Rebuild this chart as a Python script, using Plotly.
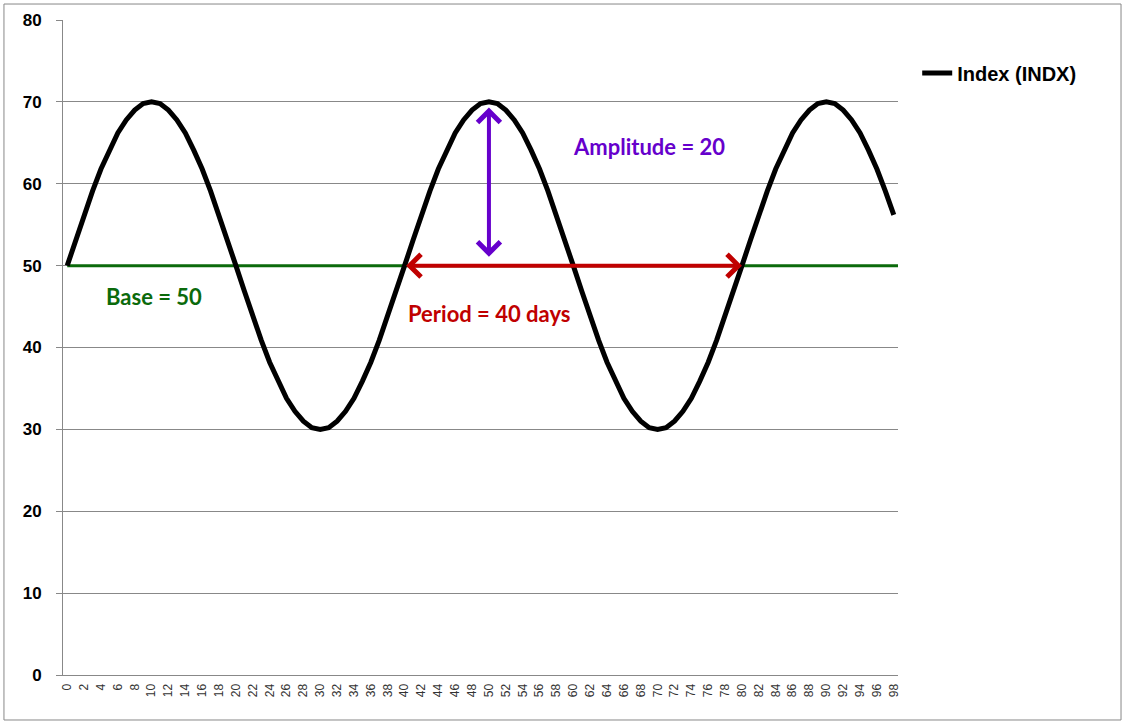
import plotly.graph_objects as go

# ---- data ----
days = list(range(0, 99))
index_values = [
    50.0, 53.1, 56.2, 59.1, 61.8, 64.1, 66.2, 67.8, 69.0, 69.8,
    70.0, 69.8, 69.0, 67.8, 66.2, 64.1, 61.8, 59.1, 56.2, 53.1,
    50.0, 46.9, 43.8, 40.9, 38.2, 35.9, 33.8, 32.2, 31.0, 30.2,
    30.0, 30.2, 31.0, 32.2, 33.8, 35.9, 38.2, 40.9, 43.8, 46.9,
    50.0, 53.1, 56.2, 59.1, 61.8, 64.1, 66.2, 67.8, 69.0, 69.8,
    70.0, 69.8, 69.0, 67.8, 66.2, 64.1, 61.8, 59.1, 56.2, 53.1,
    50.0, 46.9, 43.8, 40.9, 38.2, 35.9, 33.8, 32.2, 31.0, 30.2,
    30.0, 30.2, 31.0, 32.2, 33.8, 35.9, 38.2, 40.9, 43.8, 46.9,
    50.0, 53.1, 56.2, 59.1, 61.8, 64.1, 66.2, 67.8, 69.0, 69.8,
    70.0, 69.8, 69.0, 67.8, 66.2, 64.1, 61.8, 59.1, 56.2,
]
base_x = [0, 98.5]
base_values = [50, 50]
x_tick_values = list(range(0, 99, 2))
x_tick_labels = [str(v) for v in x_tick_values]
y_tick_values = [0, 10, 20, 30, 40, 50, 60, 70, 80]

amplitude_arrow = {"x": 50, "y_top": 69.3, "y_bottom": 50.9}
period_arrow = {"y": 50, "x_start": 40, "x_end": 80}

fig = go.Figure()
fig.add_trace(go.Scatter(
    x=base_x, y=base_values, mode="lines", name="Base",
    line=dict(color="#0B6A0B", width=3), showlegend=False, hoverinfo="skip",
))
fig.add_trace(go.Scatter(
    x=days, y=index_values, mode="lines", name="<b>Index (INDX)</b>",
    line=dict(color="#000000", width=5),
))

annot_font = "Lato, 'Open Sans', sans-serif"
annotations = [
    dict(x=amplitude_arrow["x"], y=amplitude_arrow["y_top"],
         ax=amplitude_arrow["x"], ay=amplitude_arrow["y_bottom"],
         xref="x", yref="y", axref="x", ayref="y", text="",
         showarrow=True, arrowhead=4, startarrowhead=4, arrowside="end+start",
         arrowsize=1.1, startarrowsize=1.1, arrowwidth=4, arrowcolor="#6600CC",
         standoff=0, startstandoff=0),
    dict(x=period_arrow["x_end"], y=period_arrow["y"],
         ax=period_arrow["x_start"], ay=period_arrow["y"],
         xref="x", yref="y", axref="x", ayref="y", text="",
         showarrow=True, arrowhead=4, startarrowhead=4, arrowside="end+start",
         arrowsize=1.1, startarrowsize=1.1, arrowwidth=4, arrowcolor="#C00000",
         standoff=0, startstandoff=0),
    dict(x=69.0, y=64.5, xref="x", yref="y", text="<b>Amplitude = 20</b>",
         showarrow=False, font=dict(family=annot_font, size=22, color="#6600CC")),
    dict(x=50.0, y=44.2, xref="x", yref="y", text="<b>Period = 40 days</b>",
         showarrow=False, font=dict(family=annot_font, size=22, color="#C00000")),
    dict(x=10.3, y=46.2, xref="x", yref="y", text="<b>Base = 50</b>",
         showarrow=False, font=dict(family=annot_font, size=22, color="#0B6A0B")),
]

fig.update_layout(
    width=1127, height=727,
    margin=dict(l=63, r=229, t=20, b=52),
    paper_bgcolor="white", plot_bgcolor="white",
    font=dict(family="'Liberation Sans', Arial, sans-serif", color="#000000"),
    showlegend=True,
    legend=dict(x=1.023, y=0.919, xanchor="left", yanchor="middle",
                font=dict(size=20, color="#000000"),
                itemwidth=30, bgcolor="rgba(0,0,0,0)"),
    annotations=annotations,
    shapes=[dict(type="rect", xref="paper", yref="paper",
                 x0=-0.0707, x1=1.2671, y0=-0.0687, y1=1.0244,
                 line=dict(color="#888888", width=1), fillcolor="rgba(0,0,0,0)",
                 layer="below")],
)
fig.update_xaxes(
    range=[-0.5, 98.5], tickmode="array", tickvals=x_tick_values, ticktext=x_tick_labels,
    tickangle=-90, tickfont=dict(size=12, color="#333333"),
    showgrid=False, showline=True, linecolor="#888888", linewidth=1,
    ticks="", zeroline=False, ticklabelstandoff=3,
)
fig.update_yaxes(
    range=[0, 80], tickmode="array", tickvals=y_tick_values,
    tickfont=dict(size=17, color="#000000", weight="bold"),
    showgrid=True, gridcolor="#888888", gridwidth=1,
    showline=True, linecolor="#888888", linewidth=1,
    ticks="outside", ticklen=6, tickcolor="#888888", zeroline=False,
    ticklabelstandoff=11,
)
fig.write_html("out.html", config={"displayModeBar": False},
               post_script="document.body.style.margin='0';")
